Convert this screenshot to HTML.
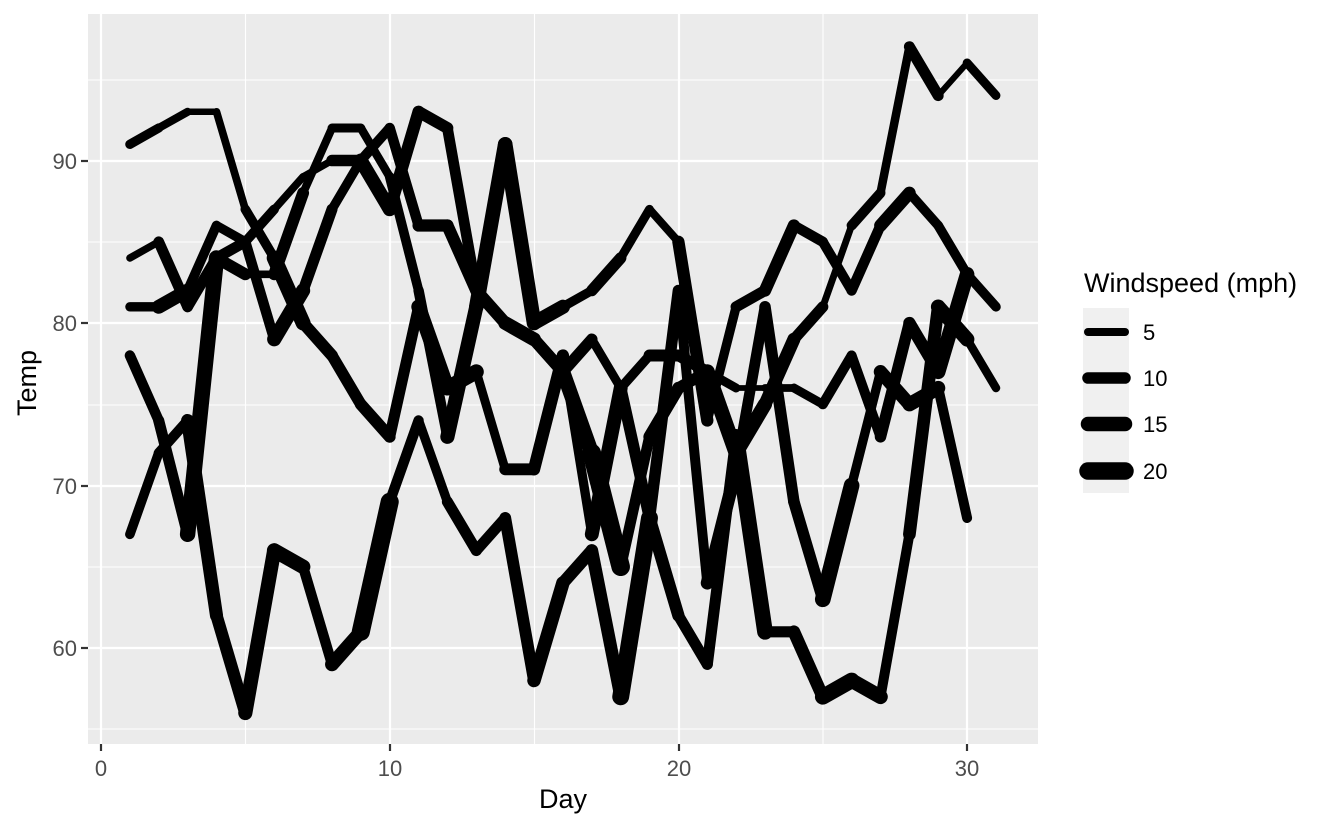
<!DOCTYPE html>
<html><head><meta charset="utf-8"><style>
body{margin:0;background:#fff}
svg{display:block;font-family:"Liberation Sans",Arial,sans-serif}
</style></head><body>
<svg id="s" width="1344" height="830" viewBox="0 0 1344 830" xmlns="http://www.w3.org/2000/svg">
<rect x="0" y="0" width="1344" height="830" fill="#fff"/>
<rect x="88" y="14" width="950" height="730" fill="#ebebeb"/>
<g stroke="#fff" stroke-width="1.1">
<line x1="88" x2="1038" y1="80" y2="80"/><line x1="88" x2="1038" y1="242" y2="242"/>
<line x1="88" x2="1038" y1="405" y2="405"/><line x1="88" x2="1038" y1="567" y2="567"/>
<line x1="88" x2="1038" y1="729" y2="729"/>
<line y1="14" y2="744" x1="245.5" x2="245.5"/><line y1="14" y2="744" x1="534.5" x2="534.5"/>
<line y1="14" y2="744" x1="823" x2="823"/>
</g>
<g stroke="#fff" stroke-width="2.2">
<line x1="88" x2="1038" y1="161" y2="161"/><line x1="88" x2="1038" y1="323" y2="323"/>
<line x1="88" x2="1038" y1="486" y2="486"/><line x1="88" x2="1038" y1="648" y2="648"/>
<line y1="14" y2="744" x1="101" x2="101"/><line y1="14" y2="744" x1="390" x2="390"/>
<line y1="14" y2="744" x1="679" x2="679"/><line y1="14" y2="744" x1="967" x2="967"/>
</g>
<g id="lines" stroke="#000" stroke-linecap="round" fill="none"></g>
<g stroke="#333" stroke-width="2.2">
<line x1="101" x2="101" y1="744" y2="751"/><line x1="390" x2="390" y1="744" y2="751"/>
<line x1="679" x2="679" y1="744" y2="751"/><line x1="967" x2="967" y1="744" y2="751"/>
<line x1="81" x2="88" y1="161" y2="161"/><line x1="81" x2="88" y1="323" y2="323"/>
<line x1="81" x2="88" y1="486" y2="486"/><line x1="81" x2="88" y1="648" y2="648"/>
</g>
<g fill="#4d4d4d" font-size="22">
<text x="101" y="776" text-anchor="middle">0</text><text x="390" y="776" text-anchor="middle">10</text>
<text x="679" y="776" text-anchor="middle">20</text><text x="967" y="776" text-anchor="middle">30</text>
<text x="77" y="169" text-anchor="end">90</text><text x="77" y="331" text-anchor="end">80</text>
<text x="77" y="494" text-anchor="end">70</text><text x="77" y="656" text-anchor="end">60</text>
</g>
<text x="563" y="808" font-size="27" text-anchor="middle">Day</text>
<text transform="translate(36,383) rotate(-90)" font-size="27" text-anchor="middle">Temp</text>
<text x="1084" y="292" font-size="27">Windspeed (mph)</text>
<rect x="1083" y="308" width="46" height="185" fill="#f0f0f0"/>
<g stroke="#000" stroke-linecap="round">
<line x1="1088" x2="1125" y1="332" y2="332" stroke-width="8"/>
<line x1="1088" x2="1125" y1="378" y2="378" stroke-width="11.5"/>
<line x1="1088" x2="1125" y1="424" y2="424" stroke-width="14.5"/>
<line x1="1088" x2="1125" y1="471" y2="471" stroke-width="17.5"/>
</g>
<g font-size="22" fill="#000">
<text x="1143" y="340">5</text><text x="1143" y="386">10</text><text x="1143" y="432">15</text><text x="1143" y="479">20</text>
</g>
</svg>
<script>
var T=[
[67,72,74,62,56,66,65,59,61,69,74,69,66,68,58,64,66,57,68,62,59,73,61,61,57,58,57,67,81,79,76],
[78,74,67,84,85,79,82,87,90,87,93,92,82,80,79,77,72,65,73,76,77,76,76,76,75,78,73,80,77,83],
[84,85,81,84,83,83,88,92,92,89,82,73,81,91,80,81,82,84,87,85,74,81,82,86,85,82,86,88,86,83,81],
[81,81,82,86,85,87,89,90,90,92,86,86,82,80,79,77,79,76,78,78,77,72,75,79,81,86,88,97,94,96,94],
[91,92,93,93,87,84,80,78,75,73,81,76,77,71,71,78,67,76,68,82,64,71,81,69,63,70,77,75,76,68]];
var W=[
[7.4,8.0,12.6,11.5,14.3,14.9,8.6,13.8,20.1,8.6,6.9,9.7,9.2,10.9,13.2,11.5,12.0,18.4,11.5,9.7,9.7,16.6,9.7,12.0,16.6,14.9,8.0,12.0,14.9,5.7,7.4],
[8.6,9.7,16.1,9.2,8.6,14.3,9.7,6.9,13.8,11.5,10.9,9.2,8.0,13.8,11.5,14.9,20.7,9.2,11.5,10.3,6.3,1.7,4.6,6.3,8.0,8.0,10.3,11.5,14.9,8.0],
[4.1,9.2,9.2,10.9,4.6,10.9,5.1,6.3,5.7,7.4,8.6,14.3,14.9,14.9,14.3,6.9,10.3,6.3,5.1,11.5,6.9,9.7,11.5,8.6,8.0,8.6,12.0,7.4,7.4,7.4,9.2],
[6.9,13.8,7.4,6.9,7.4,4.6,4.0,10.3,8.0,8.6,11.5,11.5,11.5,9.7,11.5,10.3,6.3,7.4,10.9,10.3,15.5,14.3,12.6,9.7,3.4,8.0,5.7,9.7,2.3,6.3,6.3],
[6.9,5.1,2.8,4.6,7.4,15.5,10.9,10.3,10.9,9.7,14.9,15.5,6.3,10.9,11.5,6.9,13.8,10.3,10.3,8.0,12.6,9.2,10.3,10.3,16.6,6.9,13.2,14.3,8.0,11.5]];
var g=document.getElementById('lines'),h='';
function X(d){return 101+d*28.87}function Y(t){return 648-(t-60)*16.25}
for(var m=0;m<5;m++){for(var i=0;i<T[m].length-1;i++){
var w=0.667*W[m][i]+4.67;
h+='<line x1="'+X(i+1).toFixed(1)+'" y1="'+Y(T[m][i]).toFixed(1)+'" x2="'+X(i+2).toFixed(1)+'" y2="'+Y(T[m][i+1]).toFixed(1)+'" stroke-width="'+w.toFixed(1)+'"/>';}}
g.innerHTML=h;
</script>
</body></html>
